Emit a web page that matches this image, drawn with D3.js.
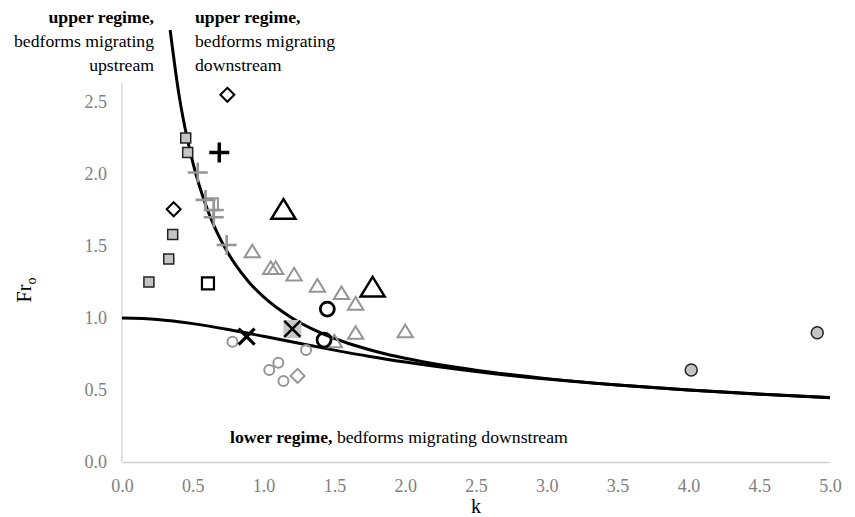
<!DOCTYPE html>
<html>
<head>
<meta charset="utf-8">
<script src="https://cdn.jsdelivr.net/npm/d3@7/dist/d3.min.js"></script>
<style>
  body { margin: 0; background: #fff; }
  svg { display: block; }
  svg text { font-family: "Liberation Serif", "Times New Roman", serif; }
</style>
</head>
<body>
<svg id="chart" width="855" height="517"></svg>
<script>
// tick labels
const xTicks = [0, 0.5, 1, 1.5, 2, 2.5, 3, 3.5, 4, 4.5, 5];
const yTicks = [0, 0.5, 1, 1.5, 2, 2.5];

// boundary curves, [k, Fr]
const upperCurve = [[0.34, 3.0], [0.4, 2.565], [0.5, 2.08], [0.6, 1.762], [0.7, 1.537], [0.8, 1.372],
  [0.9, 1.245], [1.0, 1.146], [1.2, 1.0], [1.4, 0.898], [1.6, 0.823], [1.8, 0.766], [2.0, 0.72],
  [2.5, 0.637], [3.0, 0.579], [3.5, 0.535], [4.0, 0.5], [4.5, 0.4715], [5.0, 0.4472]];
const lowerCurve = [[0, 1.0], [0.25, 0.99], [0.5, 0.961], [0.75, 0.92], [1.0, 0.873], [1.25, 0.824],
  [1.5, 0.777], [1.75, 0.733], [2.0, 0.694], [2.5, 0.628], [3.0, 0.576], [3.5, 0.534], [4.0, 0.5],
  [4.5, 0.471], [5.0, 0.447]];

// scatter series, [k, Fr]
const squaresGray = [[0.45, 2.25], [0.464, 2.15], [0.358, 1.58], [0.33, 1.41], [0.19, 1.25]];
const squaresOpen = [[0.607, 1.24]];
const squaresOpenGray = [[0.635, 1.79]];
const diamondsBlack = [[0.744, 2.55], [0.365, 1.755]];
const diamondsGray = [[1.24, 0.598]];
const plusBlack = [[0.687, 2.15]];
const plusGray = [[0.535, 2.01], [0.59, 1.82], [0.648, 1.75], [0.648, 1.70], [0.739, 1.507]];
const trianglesBig = [[1.14, 1.75], [1.77, 1.21]];
const trianglesGray = [[0.92, 1.46], [1.05, 1.345], [1.085, 1.345], [1.215, 1.30], [1.38, 1.222],
  [1.55, 1.17], [1.65, 1.097], [1.65, 0.894], [1.50, 0.835], [2.0, 0.905]];
const circlesBlack = [[1.45, 1.062], [1.427, 0.847]];
const circlesGray = [[0.78, 0.835], [1.30, 0.778], [1.04, 0.639], [1.104, 0.69], [1.14, 0.5625]];
const crossBlack = [[0.88, 0.87]];
const crossBox = [[1.203, 0.924]];
const circlesFilled = [[4.02, 0.639], [4.91, 0.898]];

const svg = d3.select("#chart");
const x = d3.scaleLinear().domain([0, 5]).range([122, 830]);
const y = d3.scaleLinear().domain([0, 2.5]).range([462, 102]);
const yTop = 2.63;

const gray = "#959595", axisGray = "#d0d0d0", tickGray = "#808080";
const serif = "Liberation Serif, Times New Roman, serif";

// axes
const xAxis = d3.axisBottom(x).tickValues(xTicks).tickFormat(d3.format(".1f")).tickSize(0).tickPadding(17);
const gx = svg.append("g").attr("transform", "translate(0,462)").call(xAxis).attr("font-family", serif);
gx.select(".domain").attr("stroke", axisGray).attr("stroke-width", 1.3);
gx.selectAll("text").attr("fill", tickGray).style("font-size", "18px");

const yAxis = d3.axisLeft(y).tickValues(yTicks).tickFormat(d3.format(".1f")).tickSize(0).tickPadding(15);
const gy = svg.append("g").attr("transform", "translate(122,0)").call(yAxis).attr("font-family", serif);
gy.select(".domain").attr("d", `M0,${y(0)}V${y(yTop)}`).attr("stroke", axisGray).attr("stroke-width", 1.3);
gy.selectAll("text").attr("fill", tickGray).style("font-size", "18px");

// axis titles
svg.append("text").attr("x", x(2.5)).attr("y", 513).attr("text-anchor", "middle")
  .style("font-size", "20px").text("k");
const fr = svg.append("text").attr("transform", "translate(31,290) rotate(-90)")
  .attr("text-anchor", "middle").style("font-size", "20px");
fr.append("tspan").text("Fr");
fr.append("tspan").attr("dy", 5).style("font-size", "14px").text("o");

// curves
const line = d3.line().x(d => x(d[0])).y(d => y(d[1])).curve(d3.curveMonotoneX);
[upperCurve, lowerCurve].forEach(c => {
  svg.append("path").attr("d", line(c)).attr("fill", "none").attr("stroke", "#000").attr("stroke-width", 3);
});

// markers
function draw(data, pathFn, fill, stroke, sw) {
  svg.append("g").selectAll("path").data(data).join("path")
    .attr("transform", d => `translate(${x(d[0])},${y(d[1])})`)
    .attr("d", pathFn)
    .attr("fill", fill).attr("stroke", stroke).attr("stroke-width", sw)
    .attr("stroke-linejoin", "miter");
}
const sq = s => () => `M${-s},${-s}H${s}V${s}H${-s}Z`;
const dia = s => () => `M0,${-s}L${s},0L0,${s}L${-s},0Z`;
const tri = s => () => `M0,${-s}L${s * 1.1},${s * 0.8}H${-s * 1.1}Z`;
const plus = s => () => `M${-s},0H${s}M0,${-s}V${s}`;
const cross = s => () => `M${-s},${-s}L${s},${s}M${s},${-s}L${-s},${s}`;
const circ = r => () => `M${r},0A${r},${r} 0 1,1 ${-r},0A${r},${r} 0 1,1 ${r},0Z`;

draw(squaresGray, sq(5), "#c4c4c4", "#222", 1.5);
draw(squaresOpenGray, sq(6), "none", gray, 2);
draw(squaresOpen, sq(6), "none", "#000", 2.2);
draw(diamondsBlack, dia(7), "none", "#000", 2);
draw(diamondsGray, dia(7), "none", gray, 2);
draw(plusGray, plus(10), "none", gray, 2.6);
draw(plusBlack, plus(10), "none", "#000", 3.5);
draw(trianglesGray, tri(7), "none", gray, 2);
draw(trianglesBig, tri(11), "none", "#000", 2.4);
draw(circlesGray, circ(5), "none", gray, 2);
draw(circlesBlack, circ(7), "none", "#000", 2.8);
draw(crossBox, sq(9), "#c8c8c8", "none", 0);
draw(crossBox, cross(8), "none", "#000", 2.5);
draw(crossBlack, cross(8), "none", "#000", 3.2);
draw(circlesFilled, circ(6), "#c4c4c4", "#222", 1.5);

// regime labels
const labelSize = "17.7px";
function block(xPos, anchor, lines) {
  lines.forEach((ln, i) => {
    const t = svg.append("text").attr("x", xPos).attr("y", 23 + i * 24)
      .attr("text-anchor", anchor).style("font-size", labelSize).text(ln);
    if (i === 0) t.style("font-weight", "bold");
  });
}
block(154, "end", ["upper regime,", "bedforms migrating", "upstream"]);
block(195, "start", ["upper regime,", "bedforms migrating", "downstream"]);

const low = svg.append("text").attr("x", 230).attr("y", 443).style("font-size", labelSize);
low.append("tspan").style("font-weight", "bold").text("lower regime,");
low.append("tspan").text(" bedforms migrating downstream");
</script>
</body>
</html>
